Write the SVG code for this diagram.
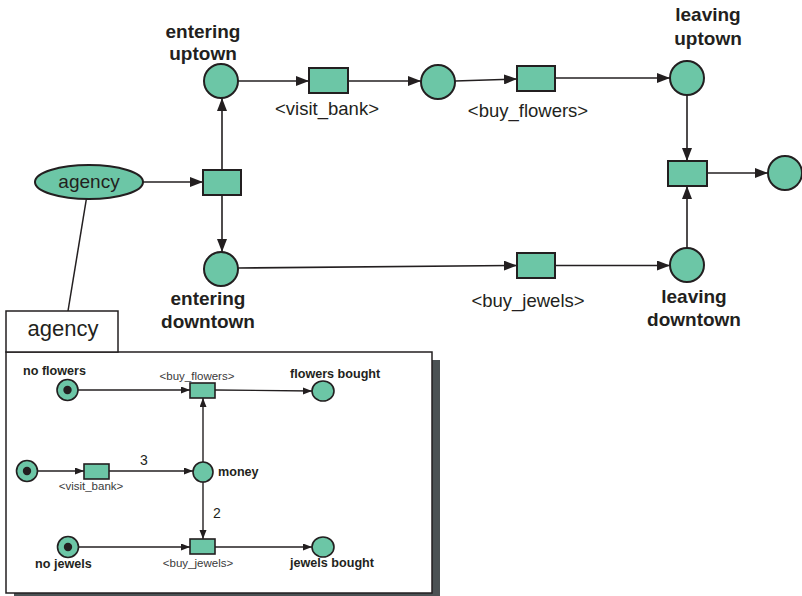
<svg xmlns="http://www.w3.org/2000/svg" width="802" height="596" viewBox="0 0 802 596">
  <style>
    .pl { fill: #6cc6a6; stroke: #231f20; stroke-width: 2; }
    .tr { fill: #6cc6a6; stroke: #231f20; stroke-width: 2; }
    .pl2 { fill: #6cc6a6; stroke: #231f20; stroke-width: 1.6; }
    .tr2 { fill: #6cc6a6; stroke: #231f20; stroke-width: 1.6; }
    .tok { fill: #231f20; }
    .arc { fill: none; stroke: #231f20; stroke-width: 1.6; marker-end: url(#ah); }
    .arc2 { fill: none; stroke: #231f20; stroke-width: 1.4; marker-end: url(#ah2); }
    .lab { font-family: "Liberation Sans", Arial, sans-serif; fill: #231f20; }
    .b19 { font-size: 19px; font-weight: bold; text-anchor: middle; }
    .r19 { font-size: 18.5px; text-anchor: middle; }
    .b12 { font-size: 12.6px; font-weight: bold; }
    .r12 { font-size: 11.5px; text-anchor: middle; fill: #3a3a3a; }
    .n14 { font-size: 14px; }
  </style>
  <defs>
    <marker id="ah" markerUnits="userSpaceOnUse" markerWidth="14" markerHeight="10" refX="13" refY="5" orient="auto">
      <path d="M0,0 L13,5 L0,10 Z" fill="#231f20"/>
    </marker>
    <marker id="ah2" markerUnits="userSpaceOnUse" markerWidth="10" markerHeight="8" refX="9" refY="3.5" orient="auto">
      <path d="M0,0 L9,3.5 L0,7 Z" fill="#231f20"/>
    </marker>
  </defs>
  <rect width="802" height="596" fill="#ffffff"/>

  <!-- connectors of the main net -->
  <g id="connectors">
    <path class="arc" d="M143,182 L203,182"/>
    <path class="arc" d="M222,169 L222,98"/>
    <path class="arc" d="M222,195 L222,252"/>
    <path class="arc" d="M238,81 L309,81"/>
    <path class="arc" d="M348,81 L421,81"/>
    <path class="arc" d="M455,81 L517,79"/>
    <path class="arc" d="M555,78 L670,78"/>
    <path class="arc" d="M687,95 L687,161"/>
    <path class="arc" d="M687,249 L687,186"/>
    <path class="arc" d="M707,173 L768,173"/>
    <path class="arc" d="M238,268 L517,265.5"/>
    <path class="arc" d="M555,265.5 L670,265.5"/>
    <!-- refinement link from the agency node to its subnet -->
    <path d="M88,189 L68,311" fill="none" stroke="#231f20" stroke-width="1.5"/>
  </g>

  <!-- main net nodes -->
  <g id="agency">
    <ellipse class="pl" cx="89" cy="182" rx="54" ry="17"/>
    <text class="lab" x="89" y="188" font-size="19" text-anchor="middle">agency</text>
  </g>
  <g id="split">
    <rect class="tr" x="203" y="170" width="38" height="25"/>
  </g>
  <g id="entering_uptown">
    <circle class="pl" cx="221" cy="81" r="17"/>
    <text class="lab b19" x="203" y="38">entering</text>
    <text class="lab b19" x="203" y="60">uptown</text>
  </g>
  <g id="visit_bank">
    <rect class="tr" x="309" y="68" width="39" height="25"/>
    <text class="lab r19" x="327" y="115">&lt;visit_bank&gt;</text>
  </g>
  <g id="banked">
    <circle class="pl" cx="438" cy="82" r="17"/>
  </g>
  <g id="buy_flowers">
    <rect class="tr" x="517" y="66" width="38" height="25"/>
    <text class="lab r19" x="528" y="117">&lt;buy_flowers&gt;</text>
  </g>
  <g id="leaving_uptown">
    <circle class="pl" cx="687" cy="78" r="17"/>
    <text class="lab b19" x="708" y="21">leaving</text>
    <text class="lab b19" x="708" y="45">uptown</text>
  </g>
  <g id="join">
    <rect class="tr" x="668" y="161" width="39" height="25"/>
  </g>
  <g id="done">
    <circle class="pl" cx="785" cy="173" r="17"/>
  </g>
  <g id="entering_downtown">
    <circle class="pl" cx="221" cy="269" r="17"/>
    <text class="lab b19" x="208" y="305">entering</text>
    <text class="lab b19" x="208" y="328">downtown</text>
  </g>
  <g id="buy_jewels">
    <rect class="tr" x="517" y="253" width="38" height="25"/>
    <text class="lab r19" x="528" y="307">&lt;buy_jewels&gt;</text>
  </g>
  <g id="leaving_downtown">
    <circle class="pl" cx="687" cy="265" r="17"/>
    <text class="lab b19" x="694" y="303">leaving</text>
    <text class="lab b19" x="694" y="326">downtown</text>
  </g>

  <!-- agency subnet panel -->
  <g id="agency_panel">
    <rect x="14" y="360" width="426" height="236" fill="#4b5254"/>
    <rect x="6" y="352" width="426" height="241" fill="#ffffff" stroke="#231f20" stroke-width="1.5"/>
    <rect x="6" y="311" width="112" height="41" fill="#ffffff" stroke="#231f20" stroke-width="1.5"/>
    <text class="lab" x="63" y="336" font-size="22" text-anchor="middle">agency</text>
  </g>

  <g id="sub_connectors">
    <path class="arc2" d="M78,390 L190,390"/>
    <path class="arc2" d="M215,390 L312,391"/>
    <path class="arc2" d="M203,462 L203,398"/>
    <path class="arc2" d="M203,482 L203,539"/>
    <path class="arc2" d="M38,471 L84,471"/>
    <path class="arc2" d="M109,471 L193,471"/>
    <path class="arc2" d="M79,547 L190,547"/>
    <path class="arc2" d="M215,547 L312,547"/>
    <text class="lab n14" x="140" y="465">3</text>
    <text class="lab n14" x="213" y="518">2</text>
  </g>

  <g id="no_flowers">
    <circle class="pl2" cx="67.5" cy="390" r="10.5"/>
    <circle class="tok" cx="67.5" cy="390" r="4.2"/>
    <text class="lab b12" x="23" y="375">no flowers</text>
  </g>
  <g id="sub_buy_flowers">
    <rect class="tr2" x="190" y="383" width="25" height="15"/>
    <text class="lab r12" x="197" y="380">&lt;buy_flowers&gt;</text>
  </g>
  <g id="flowers_bought">
    <ellipse class="pl2" cx="323" cy="391" rx="11" ry="10"/>
    <text class="lab b12" x="290" y="378">flowers bought</text>
  </g>
  <g id="cash">
    <circle class="pl2" cx="27" cy="471" r="10.5"/>
    <circle class="tok" cx="27" cy="471" r="4.2"/>
  </g>
  <g id="sub_visit_bank">
    <rect class="tr2" x="84" y="464" width="25" height="15"/>
    <text class="lab r12" x="91" y="490">&lt;visit_bank&gt;</text>
  </g>
  <g id="money">
    <circle class="pl2" cx="203" cy="472" r="10"/>
    <text class="lab b12" x="218" y="476">money</text>
  </g>
  <g id="no_jewels">
    <circle class="pl2" cx="68" cy="547" r="10.5"/>
    <circle class="tok" cx="68" cy="547" r="4.2"/>
    <text class="lab b12" x="35" y="568">no jewels</text>
  </g>
  <g id="sub_buy_jewels">
    <rect class="tr2" x="190" y="539" width="25" height="15"/>
    <text class="lab r12" x="198" y="567">&lt;buy_jewels&gt;</text>
  </g>
  <g id="jewels_bought">
    <ellipse class="pl2" cx="323" cy="547" rx="11" ry="10"/>
    <text class="lab b12" x="290" y="567">jewels bought</text>
  </g>
</svg>
